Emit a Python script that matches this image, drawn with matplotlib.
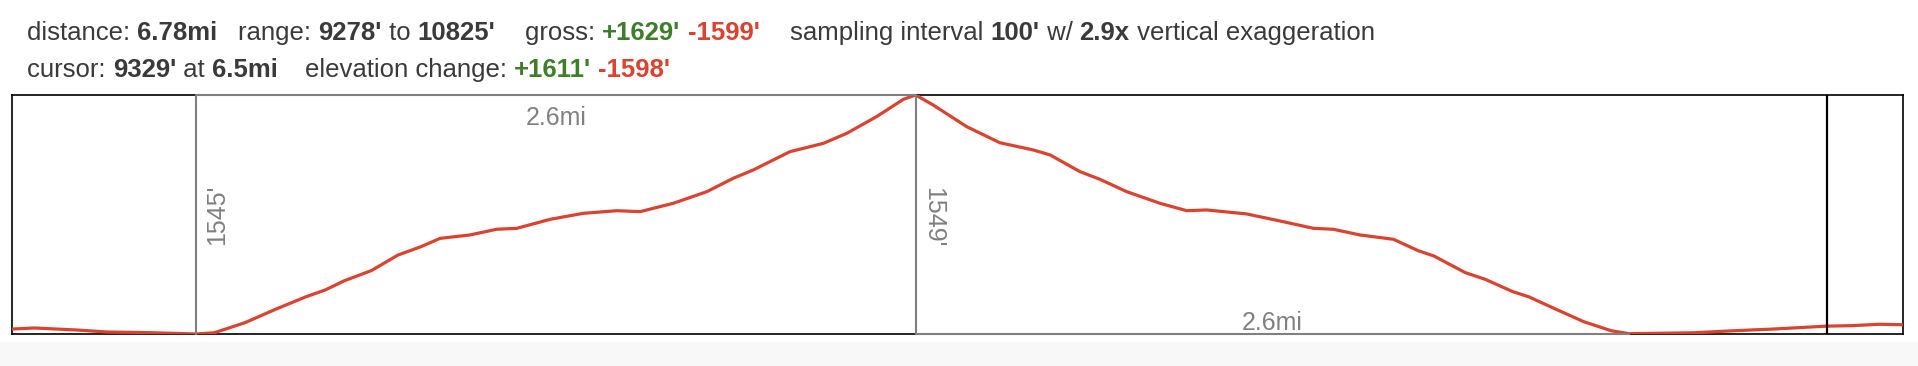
import matplotlib
matplotlib.use('Agg')
import matplotlib.pyplot as plt
from matplotlib.patches import Rectangle

# Elevation profile: distance [mi], elevation [ft]
dist = [0.0, 0.080, 0.231, 0.341, 0.506, 0.661, 0.725, 0.835, 0.945, 1.054,
        1.123, 1.192, 1.288, 1.384, 1.466, 1.535, 1.642, 1.738, 1.810, 1.929,
        2.048, 2.168, 2.252, 2.371, 2.491, 2.586, 2.658, 2.789, 2.909, 2.993,
        3.100, 3.196, 3.240, 3.303, 3.423, 3.542, 3.662, 3.722, 3.829, 3.901,
        3.997, 4.116, 4.212, 4.283, 4.427, 4.558, 4.666, 4.737, 4.833, 4.953,
        5.042, 5.098, 5.211, 5.282, 5.381, 5.438, 5.536, 5.635, 5.734, 5.798,
        6.031, 6.172, 6.314, 6.507, 6.596, 6.696, 6.780]
elev = [9310, 9317, 9304, 9291, 9286, 9278, 9286, 9351, 9438, 9519,
        9563, 9623, 9688, 9789, 9843, 9897, 9919, 9956, 9962, 10020,
        10059, 10076, 10070, 10124, 10199, 10286, 10340, 10458, 10512, 10577,
        10685, 10797, 10825, 10760, 10620, 10516, 10469, 10437, 10329, 10279,
        10199, 10124, 10076, 10081, 10055, 10005, 9962, 9956, 9919, 9891,
        9817, 9783, 9675, 9632, 9552, 9519, 9438, 9358, 9299, 9280,
        9286, 9299, 9310, 9329, 9332, 9341, 9338]

total_mi = 6.78
elev_min, elev_max = 9278, 10825
cursor_mi = 6.507

# climb / descent segments: start, turn, end distance [mi] and labels
seg_x = [0.661, 3.240, 5.798]
climb_label = "1545'"
descent_label = "1549'"
climb_dist = "2.6mi"
descent_dist = "2.6mi"

DARK = '#3a3a3a'
GREEN = '#3d7d2b'
RED = '#d9432f'
GRAY = '#808080'

# header rows: groups of (text, bold, colour)
row1 = [
    [('distance: ', False, DARK), ('6.78mi', True, DARK)],
    [('range: ', False, DARK), ("9278'", True, DARK), (' to ', False, DARK), ("10825'", True, DARK)],
    [('gross: ', False, DARK), ("+1629'", True, GREEN), (' ', False, DARK), ("-1599'", True, RED)],
    [('sampling interval ', False, DARK), ("100'", True, DARK), (' w/ ', False, DARK),
     ('2.9x', True, DARK), (' vertical exaggeration', False, DARK)],
]
row2 = [
    [('cursor: ', False, DARK), ("9329'", True, DARK), (' at ', False, DARK), ('6.5mi', True, DARK)],
    [('elevation change: ', False, DARK), ("+1611'", True, GREEN), (' ', False, DARK), ("-1598'", True, RED)],
]
row1_x = [27, 238, 525, 790]
row2_x = [27, 305]

W, H = 1918, 366
plt.rcParams['font.family'] = ['Liberation Sans', 'DejaVu Sans']
fig = plt.figure(figsize=(W / 100, H / 100), dpi=100)

# faint grey band under the chart
fig.patches.append(Rectangle((0, 0), 1, 24 / H, transform=fig.transFigure,
                             color='#f8f8f8', zorder=0))

ax = fig.add_axes([12 / W, 32 / H, 1891 / W, 239 / H])
ax.plot(dist, elev, color=RED, lw=2.3, solid_joinstyle='round', zorder=3)
ax.set_xlim(0, total_mi)
ax.set_ylim(elev_min, elev_max)
ax.set_xticks([])
ax.set_yticks([])
for s in ax.spines.values():
    s.set_linewidth(1.2)
    s.set_color('black')

# climb box (left + top) and descent box (right + bottom) in grey
ax.plot([seg_x[0], seg_x[0], seg_x[1], seg_x[1]],
        [elev_min, elev_max, elev_max, elev_min],
        color=GRAY, lw=1.5, clip_on=False, zorder=4)
ax.plot([seg_x[1], seg_x[2]], [elev_min, elev_min],
        color=GRAY, lw=1.5, clip_on=False, zorder=4)

ax.axvline(cursor_mi, color='black', lw=1.6, zorder=5)

trans = ax.get_xaxis_transform()
ax.annotate(climb_label, (seg_x[0], 0.5), xycoords=trans, xytext=(6, 0),
            textcoords='offset points', rotation=90, ha='left', va='center',
            fontsize=18, color=GRAY)
ax.annotate(descent_label, (seg_x[1], 0.49), xycoords=trans, xytext=(4, 0),
            textcoords='offset points', rotation=-90, ha='left', va='center',
            fontsize=18, color=GRAY)
ax.annotate(climb_dist, ((seg_x[0] + seg_x[1]) / 2, 1), xycoords=trans,
            xytext=(0, -8), textcoords='offset points', ha='center', va='top',
            fontsize=18, color=GRAY)
ax.annotate(descent_dist, ((seg_x[1] + seg_x[2]) / 2, 0), xycoords=trans,
            xytext=(0, 3), textcoords='offset points', ha='center', va='baseline',
            fontsize=18, color=GRAY)

# header text, chained piece by piece
renderer = fig.canvas.get_renderer()


def draw_row(groups, xs, y_px):
    for group, x in zip(groups, xs):
        for txt, bold, col in group:
            t = fig.text(x / W, 1 - y_px / H, txt, fontsize=18.5, color=col,
                         fontweight='bold' if bold else 'normal', va='baseline')
            x += t.get_window_extent(renderer).width


draw_row(row1, row1_x, 40)
draw_row(row2, row2_x, 77)

fig.savefig('out.png', dpi=100)
